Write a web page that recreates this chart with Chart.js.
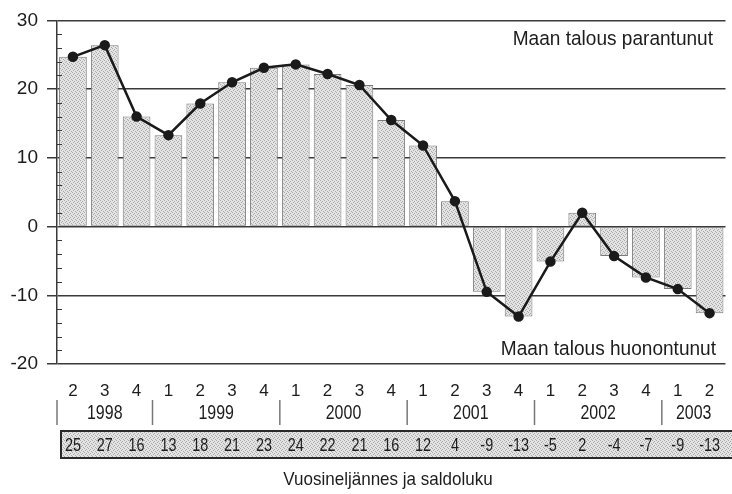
<!DOCTYPE html>
<html>
<head>
<meta charset="utf-8">
<script src="https://cdn.jsdelivr.net/npm/chart.js@4.4.1/dist/chart.umd.min.js"></script>
<style>
  html, body { margin: 0; padding: 0; background: #fff; }
  canvas { display: block; }
</style>
</head>
<body>
<canvas id="balanceChart" width="732" height="494"></canvas>
<script>
// ===== DATA =====
const quarterLabels = ["2", "3", "4", "1", "2", "3", "4", "1", "2", "3", "4", "1", "2", "3", "4", "1", "2", "3", "4", "1", "2"];
const yearLabels = ["1998", "1999", "2000", "2001", "2002", "2003"];
const quartersPerYear = [3, 4, 4, 4, 4, 2];
const balanceValues = [24.7, 26.4, 16.0, 13.3, 17.9, 21.0, 23.1, 23.6, 22.2, 20.6, 15.5, 11.8, 3.7, -9.5, -13.1, -5.1, 2.0, -4.3, -7.4, -9.1, -12.6];
// rounded numbers printed in the table row
const tableValues = [25, 27, 16, 13, 18, 21, 23, 24, 22, 21, 16, 12, 4, -9, -13, -5, 2, -4, -7, -9, -13];

const topNote = "Maan talous parantunut";
const bottomNote = "Maan talous huonontunut";
const axisTitle = "Vuosineljännes ja saldoluku";

// ===== STYLE =====
const SANS = '"Liberation Sans", Arial, sans-serif';
const INK = "#1c1c1c";
const GRID = "#3a3a3a";

// stippled light grey fill like the printed screen
function makeDotPattern() {
    const c = document.createElement("canvas");
    c.width = 4;
    c.height = 4;
    const g = c.getContext("2d");
    g.fillStyle = "#e4e4e4";
    g.fillRect(0, 0, 4, 4);
    g.fillStyle = "#a9a9a9";
    [[0, 0], [2, 1], [1, 2], [3, 3]].forEach(p => g.fillRect(p[0], p[1], 1, 1));
    return g.createPattern(c, "repeat");
}
const dots = makeDotPattern();

// condensed text: draw with a horizontal squeeze
function squeezedText(ctx, text, x, y, size, squeeze, align) {
    ctx.save();
    ctx.font = size + "px " + SANS;
    ctx.textAlign = align;
    ctx.textBaseline = "middle";
    ctx.translate(x, y);
    ctx.scale(squeeze, 1);
    ctx.fillText(text, 0, 0);
    ctx.restore();
}

// ===== EXTRA DRAWING (minor ticks, notes, years, table) =====
const extrasPlugin = {
    id: "extras",
    afterDraw(chart) {
        const ctx = chart.ctx;
        const area = chart.chartArea;
        const x = chart.scales.x;
        const y = chart.scales.y;
        const step = (area.right - area.left) / quarterLabels.length;

        ctx.save();

        // minor ticks inside the left axis
        ctx.strokeStyle = GRID;
        ctx.lineWidth = 1;
        for (let v = y.min; v <= y.max; v += 2) {
            if (v % 10 === 0) continue;
            const py = Math.round(y.getPixelForValue(v)) + 0.5;
            ctx.beginPath();
            ctx.moveTo(area.left, py);
            ctx.lineTo(area.left + 5, py);
            ctx.stroke();
        }

        // notes inside the plot
        ctx.fillStyle = INK;
        squeezedText(ctx, topNote, 713, 39, 20.5, 0.93, "right");
        squeezedText(ctx, bottomNote, 716, 349, 20.5, 0.93, "right");

        // year row with separators
        let idx = 0;
        ctx.strokeStyle = "#777";
        ctx.lineWidth = 1.5;
        yearLabels.forEach((yr, i) => {
            const n = quartersPerYear[i];
            const left = x.getPixelForValue(idx) - step / 2;
            const mid = (x.getPixelForValue(idx) + x.getPixelForValue(idx + n - 1)) / 2;
            ctx.beginPath();
            ctx.moveTo(left, 400);
            ctx.lineTo(left, 425);
            ctx.stroke();
            squeezedText(ctx, yr, mid, 413, 21, 0.76, "center");
            idx += n;
        });

        // table of rounded balances
        ctx.fillStyle = dots;
        ctx.fillRect(60, 430, 680, 29);
        ctx.strokeStyle = "#2a2a2a";
        ctx.lineWidth = 2;
        ctx.strokeRect(61, 431, 680, 27);
        ctx.fillStyle = INK;
        tableValues.forEach((v, i) => {
            squeezedText(ctx, String(v), x.getPixelForValue(i), 446, 18.5, 0.78, "center");
        });

        // axis title
        squeezedText(ctx, axisTitle, 388, 480, 18.5, 0.92, "center");

        ctx.restore();
    }
};

// ===== CHART =====
const ctx = document.getElementById("balanceChart").getContext("2d");
const balanceChart = new Chart(ctx, {
    type: "bar",
    data: {
        labels: quarterLabels,
        datasets: [
            {
                type: "line",
                data: balanceValues,
                borderColor: "#1a1a1a",
                borderWidth: 2.5,
                pointRadius: 4,
                pointBackgroundColor: "#1a1a1a",
                pointBorderColor: "#1a1a1a",
                tension: 0,
                order: 0
            },
            {
                type: "bar",
                data: balanceValues,
                backgroundColor: dots,
                borderColor: "#7a7a7a",
                borderWidth: 1,
                borderSkipped: false,
                barPercentage: 0.87,
                categoryPercentage: 1,
                order: 1
            }
        ]
    },
    options: {
        responsive: false,
        animation: false,
        layout: { padding: { top: 15, right: 0, left: 0, bottom: 0 } },
        scales: {
            x: {
                grid: { display: false },
                border: { display: false },
                ticks: {
                    color: INK,
                    font: { family: SANS, size: 17 },
                    padding: 9,
                    autoSkip: false,
                    maxRotation: 0
                },
                afterFit(scale) { scale.height = 130; }
            },
            y: {
                min: -20,
                max: 30,
                ticks: {
                    stepSize: 10,
                    color: INK,
                    font: { family: SANS, size: 19 },
                    padding: 9
                },
                grid: {
                    color: GRID,
                    lineWidth: 1.5,
                    tickLength: 10,
                    tickColor: GRID
                },
                border: { color: GRID, width: 1.5 },
                afterFit(scale) { scale.width = 57; }
            }
        },
        plugins: {
            legend: { display: false },
            tooltip: { enabled: false }
        }
    },
    plugins: [extrasPlugin]
});
</script>
</body>
</html>
